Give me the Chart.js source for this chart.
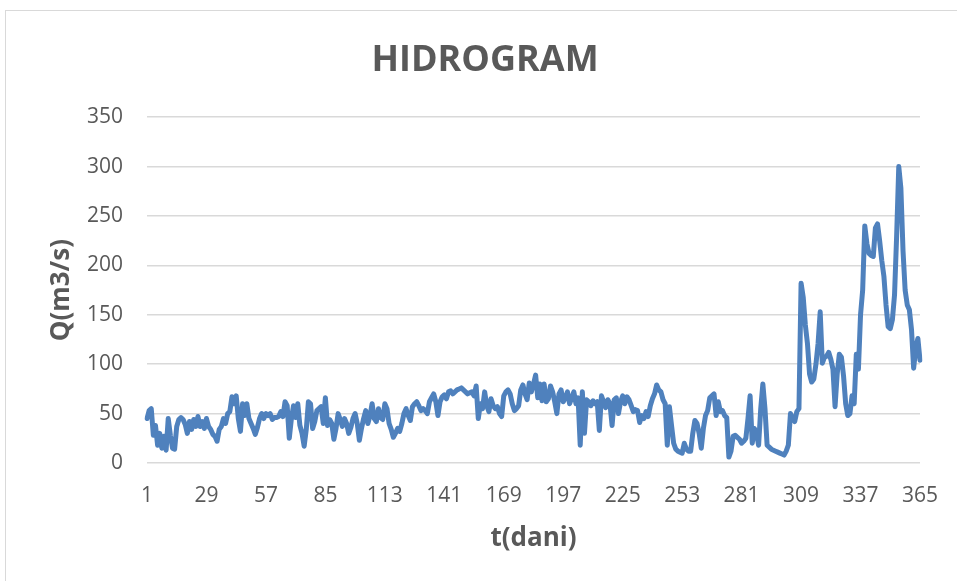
<!DOCTYPE html>
<html>
<head>
<meta charset="utf-8">
<title>HIDROGRAM</title>
<script src="https://cdn.jsdelivr.net/npm/chart.js@4.4.1/dist/chart.umd.min.js"></script>
<style>
  html, body { margin: 0; padding: 0; background: #fff; overflow: hidden; }
  #frame {
    position: absolute; left: 5px; top: 10px;
    width: 970px; height: 600px;
    border: 1px solid #d9d9d9;
  }
  #chart { position: absolute; left: 0; top: 0; }
</style>
</head>
<body>
<div id="frame"></div>
<canvas id="chart" width="957" height="581"></canvas>
<script>
  // Daily discharge Q (m3/s), day 1 .. 365
  var flow = [
    45, 53, 55, 28, 38, 18, 30, 15, 27, 13,
    45, 28, 15, 14, 37, 44, 46, 44, 39, 30,
    42, 34, 44, 37, 47, 37, 42, 35, 45, 37,
    34, 29, 27, 22, 34, 37, 45, 40, 50, 52,
    67, 60, 68, 45, 32, 60, 48, 60, 45, 40,
    35, 29, 36, 45, 50, 45, 50, 48, 50, 44,
    46, 46, 47, 52, 47, 62, 58, 25, 45, 58,
    46, 60, 38, 30, 17, 34, 62, 60, 35, 42,
    53, 55, 57, 40, 66, 38, 44, 40, 24, 35,
    50, 44, 37, 45, 40, 30, 36, 45, 50, 40,
    23, 35, 45, 53, 40, 48, 60, 45, 42, 55,
    46, 44, 60, 55, 40, 34, 26, 30, 35, 32,
    40, 50, 55, 48, 43, 57, 60, 62, 58, 53,
    55, 53, 50, 62, 66, 70, 62, 48, 62, 67,
    69, 65, 72, 73, 70, 72, 74, 75, 76, 74,
    72, 70, 71, 72, 68, 78, 45, 60, 55, 72,
    58, 52, 65, 58, 55, 57, 50, 47, 68, 72,
    74, 70, 60, 53, 55, 58, 74, 79, 70, 64,
    81, 72, 80, 89, 66, 80, 63, 80, 62, 65,
    78, 72, 62, 50, 70, 74, 62, 66, 72, 60,
    66, 72, 60, 66, 18, 72, 30, 64, 62, 58,
    63, 60, 62, 33, 68, 62, 56, 64, 60, 38,
    64, 66, 50, 62, 68, 60, 67, 64, 58, 52,
    54, 53, 41, 48, 45, 52, 47, 58, 65, 70,
    79, 74, 72, 64, 60, 18, 57, 38, 20, 14,
    12, 11, 10, 20, 14, 12, 12, 30, 43, 40,
    30, 15, 35, 48, 53, 66, 68, 70, 48, 62,
    52, 53, 48, 46, 6, 12, 27, 28, 26, 24,
    20, 22, 25, 45, 68, 20, 35, 30, 18, 55,
    80, 55, 18, 16, 14, 13, 12, 11, 10, 9,
    8, 12, 18, 50, 45, 42, 52, 55, 182, 168,
    140, 121, 90, 82, 85, 100, 121, 153, 101, 107,
    108, 112, 105, 95, 57, 90, 110, 107, 88, 60,
    48, 50, 68, 60, 110, 95, 150, 175, 240, 222,
    212, 210, 209, 238, 242, 225, 205, 189, 160, 138,
    136, 145, 170, 230, 300, 278, 215, 175, 160, 155,
    135, 96, 116, 126, 104
  ];

  // labelled days on the x axis
  var tickDays = [1, 29, 57, 85, 113, 141, 169, 197, 225, 253, 281, 309, 337, 365];
  // y axis range
  var yTicks = [0, 50, 100, 150, 200, 250, 300, 350];

  var days = [];
  for (var i = 0; i < flow.length; i++) days.push(i + 1);

  var grey = '#595959';
  var gridGrey = '#d9d9d9';
  var family = "'Open Sans', 'Liberation Sans', sans-serif";

  new Chart(document.getElementById('chart'), {
    type: 'line',
    data: {
      labels: days,
      datasets: [{
        label: 'Q',
        data: flow,
        borderColor: '#4f81bd',
        borderWidth: 5,
        borderJoinStyle: 'round',
        borderCapStyle: 'round',
        pointRadius: 0,
        fill: false,
        tension: 0
      }]
    },
    options: {
      responsive: false,
      animation: false,
      devicePixelRatio: 1,
      layout: { padding: { left: 50, right: 37, top: 0, bottom: 0 } },
      plugins: {
        legend: { display: false },
        tooltip: { enabled: false },
        title: {
          display: true,
          text: 'HIDROGRAM',
          color: grey,
          font: { family: family, size: 36, weight: 'bold' },
          padding: { top: 39, bottom: 35 }
        }
      },
      scales: {
        x: {
          type: 'category',
          offset: false,
          grid: { display: false },
          border: { display: false },
          ticks: {
            autoSkip: false,
            maxRotation: 0,
            minRotation: 0,
            padding: 12,
            color: grey,
            font: { family: family, size: 21 },
            callback: function (value, index) {
              var d = days[index];
              return tickDays.indexOf(d) >= 0 ? String(d) : '';
            }
          },
          title: {
            display: true,
            text: 't(dani)',
            color: grey,
            font: { family: family, size: 26, weight: 'bold' },
            padding: { top: 0, bottom: 27 }
          },
          afterFit: function (scale) { scale.height = 118; }
        },
        y: {
          min: yTicks[0],
          max: yTicks[yTicks.length - 1],
          grid: { color: gridGrey, lineWidth: 1.5, drawTicks: false },
          border: { display: false },
          ticks: {
            stepSize: 50,
            padding: 24,
            color: grey,
            font: { family: family, size: 21 }
          },
          afterBuildTicks: function (scale) {
            scale.ticks = yTicks.map(function (v) { return { value: v }; });
          },
          title: {
            display: true,
            text: 'Q(m3/s)',
            color: grey,
            font: { family: family, size: 26, weight: 'bold' },
            padding: { top: -4, bottom: 0 }
          },
          // y axis box ends where the plot starts
          afterFit: function (scale) { scale.width = 97; }
        }
      }
    }
  });
</script>
</body>
</html>
